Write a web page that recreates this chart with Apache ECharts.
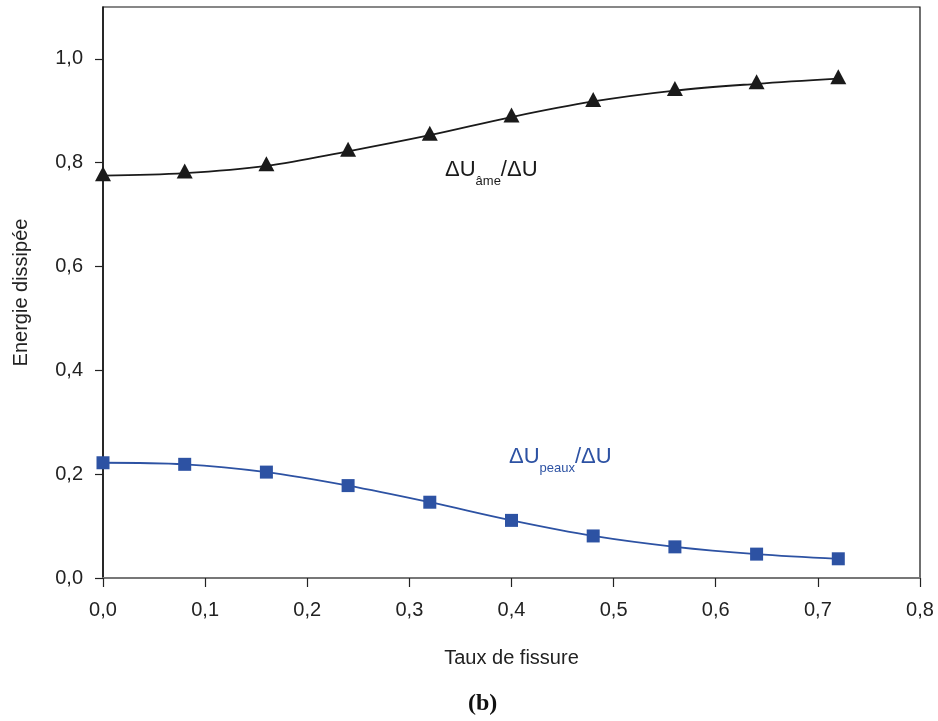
<!DOCTYPE html>
<html>
<head>
<meta charset="utf-8">
<script src="https://cdn.jsdelivr.net/npm/echarts@6/dist/echarts.min.js"></script>
<style>
html,body{margin:0;padding:0;background:#fff;}
#chart{width:938px;height:721px;}
</style>
</head>
<body>
<div id="chart"></div>
<script>
const taux = [0, 0.08, 0.16, 0.24, 0.32, 0.40, 0.48, 0.56, 0.64, 0.72];
const ameRatio = [0.775, 0.780, 0.794, 0.822, 0.853, 0.888, 0.918, 0.939, 0.952, 0.962];
const peauxRatio = [0.222, 0.219, 0.204, 0.178, 0.146, 0.111, 0.081, 0.060, 0.046, 0.037];
const yTickValues = [0, 0.2, 0.4, 0.6, 0.8, 1.0];
const xTickValues = [0, 0.1, 0.2, 0.3, 0.4, 0.5, 0.6, 0.7, 0.8];

const BLUE = '#2d52a3';
const BLACK = '#1a1a1a';
const fmt = v => v.toFixed(1).replace('.', ',');

const chart = echarts.init(document.getElementById('chart'), null, {renderer: 'canvas'});
chart.setOption({
  backgroundColor: '#fff',
  animation: false,
  grid: {left: 103, right: 18, top: 7, bottom: 143, show: true, borderColor: '#111', borderWidth: 1.2, backgroundColor: 'transparent'},
  xAxis: {
    type: 'value', min: 0, max: 0.8, interval: 0.1,
    name: 'Taux de fissure', nameLocation: 'middle', nameGap: 70,
    nameTextStyle: {fontFamily: 'Liberation Sans', fontSize: 20, color: '#222'},
    axisLine: {show: true, lineStyle: {color: '#777', width: 2}},
    axisTick: {show: true, inside: false, length: 9, lineStyle: {color: '#222', width: 1.2}, customValues: xTickValues},
    axisLabel: {fontFamily: 'Liberation Sans', fontSize: 20, color: '#222', margin: 22, formatter: fmt, customValues: xTickValues},
    splitLine: {show: false}
  },
  yAxis: {
    type: 'value', min: 0, max: 1.1, interval: 0.2,
    name: 'Energie dissipée', nameLocation: 'middle', nameGap: 72, nameRotate: 90,
    nameTextStyle: {fontFamily: 'Liberation Sans', fontSize: 20, color: '#222'},
    axisLine: {show: true, lineStyle: {color: '#111', width: 1.5}},
    axisTick: {show: true, inside: false, length: 8, lineStyle: {color: '#222', width: 1.2}, customValues: yTickValues},
    axisLabel: {fontFamily: 'Liberation Sans', fontSize: 20, color: '#222', margin: 20, formatter: fmt, customValues: yTickValues},
    splitLine: {show: false}
  },
  series: [
    {
      name: 'ame', type: 'line', smooth: 0.35,
      data: taux.map((x, i) => [x, ameRatio[i]]),
      symbol: 'triangle', symbolSize: [16, 15], symbolOffset: [0, -2],
      itemStyle: {color: BLACK},
      lineStyle: {color: BLACK, width: 1.8},
      z: 3
    },
    {
      name: 'peaux', type: 'line', smooth: 0.35,
      data: taux.map((x, i) => [x, peauxRatio[i]]),
      symbol: 'rect', symbolSize: 13,
      itemStyle: {color: BLUE},
      lineStyle: {color: BLUE, width: 1.8},
      z: 3
    }
  ],
  graphic: [
    {
      type: 'text', left: 445, top: 159,
      style: {
        text: '{m|ΔU}{s|âme}{m|/ΔU}',
        fill: BLACK,
        rich: {
          m: {fontFamily: 'Liberation Sans', fontSize: 22, lineHeight: 25, verticalAlign: 'top', fill: BLACK},
          s: {fontFamily: 'Liberation Sans', fontSize: 13, lineHeight: 14, padding: [16, 0, 0, 0], verticalAlign: 'top', fill: BLACK}
        }
      }
    },
    {
      type: 'text', left: 509, top: 446,
      style: {
        text: '{m|ΔU}{s|peaux}{m|/ΔU}',
        fill: BLUE,
        rich: {
          m: {fontFamily: 'Liberation Sans', fontSize: 22, lineHeight: 25, verticalAlign: 'top', fill: BLUE},
          s: {fontFamily: 'Liberation Sans', fontSize: 13, lineHeight: 14, padding: [16, 0, 0, 0], verticalAlign: 'top', fill: BLUE}
        }
      }
    },
    {
      type: 'text', left: 468, top: 692,
      style: {text: '(b)', font: 'bold 24px "Liberation Serif"', fill: '#111'}
    }
  ]
});
</script>
</body>
</html>
